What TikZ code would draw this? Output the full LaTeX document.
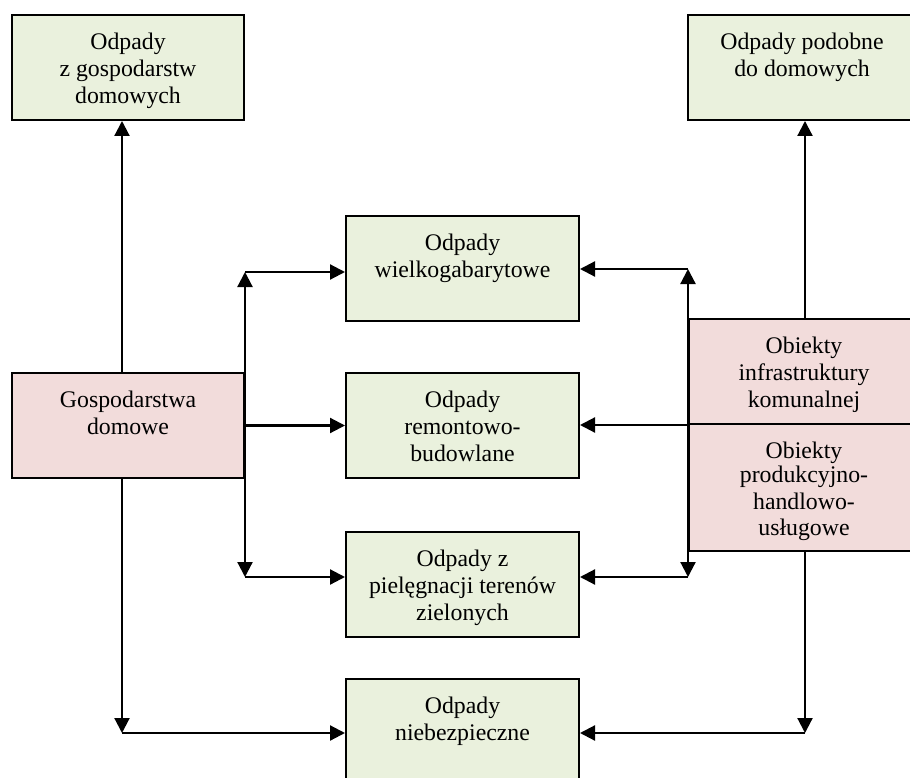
\documentclass[tikz,border=0pt]{standalone}
\usepackage{fontspec}
\setmainfont{Liberation Serif}
\usetikzlibrary{arrows.meta,calc}
\definecolor{boxgreen}{HTML}{EAF1DD}
\definecolor{boxpink}{HTML}{F2DCDB}
\newcommand{\boxtext}[3]{\parbox[c][#2pt][t]{#1pt}{\centering\fontsize{23.8}{26.7}\selectfont\vspace*{16pt}\strut #3}}
\tikzset{
  wbox/.style={draw, line width=2pt, inner sep=0pt, anchor=north west, fill=boxgreen},
  sbox/.style={draw, line width=2pt, inner sep=0pt, anchor=north west, fill=boxpink},
  conn/.style={line width=2.2pt, -{Triangle[length=15pt,width=15pt]}},
  conntwo/.style={line width=2.2pt, {Triangle[length=15pt,width=15pt]}-{Triangle[length=15pt,width=15pt]}}
}
\begin{document}
\begin{tikzpicture}[x=1pt,y=-1pt]
\useasboundingbox (0,0) rectangle (910,778);
\node[wbox] (A) at (11,14) {\boxtext{232}{105}{Odpady\\z gospodarstw\\domowych}};
\node[wbox] (B) at (687,14) {\boxtext{228}{105}{Odpady podobne\\do domowych}};
\node[wbox] (C) at (345,215) {\boxtext{233}{105}{Odpady\\wielkogabarytowe}};
\node[wbox] (D) at (345,372) {\boxtext{233}{105}{Odpady\\remontowo-\\budowlane}};
\node[wbox] (E) at (345,531) {\boxtext{233}{105}{Odpady z\\pielęgnacji terenów\\zielonych}};
\node[wbox] (F) at (345,678) {\boxtext{233}{105}{Odpady\\niebezpieczne}};
\node[sbox] (G) at (11,372) {\boxtext{232}{105}{Gospodarstwa\\domowe}};
\node[sbox] (H) at (688,318) {\boxtext{230}{105}{Obiekty\\infrastruktury\\komunalnej}};
\node[sbox] (I) at (688,423) {\boxtext{230}{127}{\vspace*{-3pt}Obiekty\\produkcyjno-\\handlowo-\\usługowe}};
\coordinate (gx) at (122,0);
\coordinate (rx) at (805,0);
\coordinate (ytl) at (0,272);
\coordinate (ytr) at (0,269);
\coordinate (yl) at (0,577);
\coordinate (yb) at (0,733);
% left side
\draw[conn] (G.north -| gx) -- (A.south -| gx);
\draw[conn] (G.south -| gx) -- (gx |- yb);
\draw[conn] (gx |- yb) -- (F.west |- yb);
\draw[conntwo] (G.east |- ytl) -- (G.east |- yl);
\draw[conn] (G.east |- ytl) -- (C.west |- ytl);
\draw[conn] (G.east) -- (D.west |- G.east);
\draw[conn] (G.east |- yl) -- (E.west |- yl);
% right side
\draw[conntwo] (H.west |- ytr) -- (H.west |- yl);
\draw[conn] (H.west |- ytr) -- (C.east |- ytr);
\draw[conn] (H.south west) -- (D.east |- H.south west);
\draw[conn] (H.west |- yl) -- (E.east |- yl);
\draw[conn] (H.north -| rx) -- (B.south -| rx);
\draw[conn] (I.south -| rx) -- (rx |- yb);
\draw[conn] (rx |- yb) -- (F.east |- yb);
\end{tikzpicture}
\end{document}
